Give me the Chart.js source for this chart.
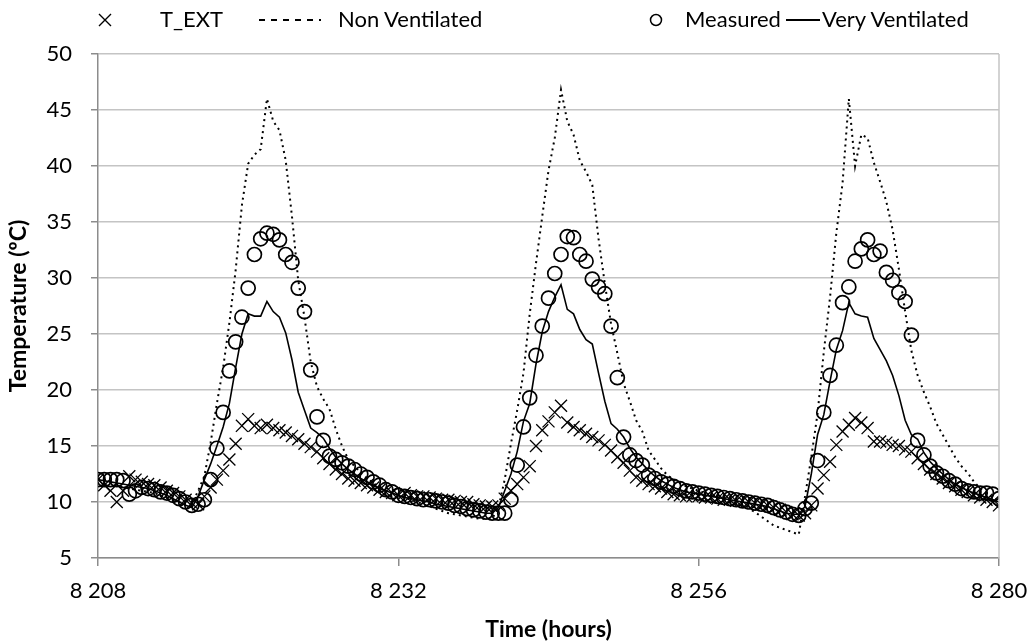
<!DOCTYPE html>
<html>
<head>
<meta charset="utf-8">
<title>Temperature vs time</title>
<script src="https://cdn.jsdelivr.net/npm/chart.js@4.4.0/dist/chart.umd.min.js"></script>
<style>
  html, body { margin: 0; padding: 0; background: #fff; }
  #wrap { position: relative; width: 1028px; height: 643px; }
  #legend { position: absolute; left: 0; top: 0; width: 1028px; height: 40px;
            font-family: Lato, "Open Sans", sans-serif; font-size: 22px; color: #000; }
  #legend .lg { position: absolute; top: 5px; height: 28px; line-height: 28px; white-space: nowrap; }
  #legend svg { position: absolute; top: 0; }
</style>
</head>
<body>
<div id="wrap">
  <canvas id="chart" width="1028" height="643"></canvas>
  <div id="legend">
    <svg style="left:97px" width="16" height="40"><path d="M2 14 L14 26 M14 14 L2 26" stroke="#000" stroke-width="1.4"/></svg>
    <span class="lg" style="left:160px">T_EXT</span>
    <svg style="left:259px" width="62" height="40"><line x1="0" y1="20" x2="62" y2="20" stroke="#000" stroke-width="2" stroke-dasharray="6 6"/></svg>
    <span class="lg" style="left:338px">Non Ventilated</span>
    <svg style="left:648px" width="16" height="40"><circle cx="8" cy="20" r="5.5" fill="none" stroke="#000" stroke-width="1.5"/></svg>
    <span class="lg" style="left:685px">Measured</span>
    <svg style="left:786px" width="34" height="40"><line x1="0" y1="20" x2="34" y2="20" stroke="#000" stroke-width="2"/></svg>
    <span class="lg" style="left:822px">Very Ventilated</span>
  </div>
</div>
<script>
// ---------------- DATA ----------------
// half-hourly samples from hour 8208 to 8280
const startHour = 8208;
const stepHours = 0.5;

const xTicks = [8208, 8232, 8256, 8280];
const xTickLabels = ["8 208", "8 232", "8 256", "8 280"];
const yTicks = [5, 10, 15, 20, 25, 30, 35, 40, 45, 50];

const tExt = [
  12.0, 11.5, 11.0, 10.0, 11.0, 12.3, 12.0, 11.8,
  11.6, 11.5, 11.3, 11.0, 10.8, 10.5, 10.2, 9.9,
  9.8, 10.5, 11.3, 12.0, 12.8, 13.8, 15.2, 16.8,
  17.4, 16.8, 16.6, 16.9, 16.6, 16.4, 16.2, 15.9,
  15.6, 15.2, 14.9, 14.5, 13.9, 13.4, 12.9, 12.5,
  12.1, 11.9, 11.7, 11.5, 11.3, 11.1, 10.9, 10.8,
  10.6, 10.8, 10.6, 10.5, 10.5, 10.4, 10.3, 10.2,
  10.2, 10.1, 10.0, 10.0, 9.8, 9.7, 9.6, 9.6,
  9.7, 10.3, 11.0, 11.6, 12.2, 13.2, 15.0, 16.4,
  17.2, 18.0, 18.6, 17.1, 16.7, 16.4, 16.1, 15.8,
  15.5, 15.1, 14.6, 14.0, 13.5, 12.8, 12.2, 11.9,
  11.6, 11.4, 11.2, 10.9, 10.7, 10.6, 10.5, 10.5,
  10.5, 10.4, 10.4, 10.3, 10.2, 10.2, 10.1, 10.1,
  10.0, 9.9, 9.8, 9.7, 9.5, 9.3, 9.1, 8.9,
  8.8, 9.0, 9.7, 11.2, 12.4, 13.6, 15.1, 16.3,
  16.9, 17.5, 17.1, 16.6, 15.4, 15.4, 15.3, 15.1,
  15.0, 14.7, 14.5, 13.9, 13.4, 12.9, 12.5, 12.1,
  11.7, 11.4, 11.1, 10.9, 10.6, 10.4, 10.2, 10.0,
  9.7
];

const nonVentilated = [
  12.1, 12.0, 11.8, 11.5, 11.3, 11.2, 11.1, 11.0,
  10.9, 10.8, 10.6, 10.4, 10.2, 10.0, 9.8, 9.8,
  11.0, 12.3, 15.3, 18.8, 22.0, 26.0, 30.7, 36.5,
  40.2, 41.0, 41.5, 46.0, 44.0, 43.2, 40.5, 35.5,
  29.8, 26.5, 22.5, 20.3, 19.2, 18.3, 16.5, 15.0,
  13.8, 13.2, 12.6, 12.1, 11.7, 11.3, 11.0, 10.8,
  10.6, 10.4, 10.2, 10.0, 9.8, 9.6, 9.4, 9.2,
  9.0, 8.9, 8.8, 8.7, 8.6, 8.5, 8.5, 8.5,
  9.5, 12.0, 15.2, 18.2, 21.5, 26.8, 31.3, 35.5,
  39.6, 42.5, 46.8, 44.0, 42.8, 40.5, 39.5, 38.3,
  33.5, 29.5, 25.9, 23.3, 20.6, 19.0, 17.3, 16.3,
  14.6, 13.8, 13.0, 12.4, 12.0, 11.7, 11.4, 11.2,
  11.0, 10.8, 10.6, 10.4, 10.2, 10.0, 9.8, 9.6,
  9.4, 9.1, 8.7, 8.3, 7.9, 7.7, 7.5, 7.3,
  7.1, 10.5, 14.0, 17.9, 23.4, 28.3, 34.0, 38.5,
  46.0, 40.0, 42.8, 42.5, 40.3, 38.6, 36.8, 34.3,
  30.8, 27.0, 23.5, 21.3, 19.8, 18.5, 17.0, 16.0,
  15.0, 14.0, 13.2, 12.6, 11.8, 11.2, 10.8, 10.4,
  10.1
];

const measured = [
  12.0, 12.0, 12.0, 12.0, 11.9, 10.7, 11.0, 11.3,
  11.2, 11.1, 10.9, 10.8, 10.6, 10.3, 10.0, 9.7,
  9.8, 10.2, 12.0, 14.8, 18.0, 21.7, 24.3, 26.5,
  29.1, 32.1, 33.5, 34.0, 33.9, 33.4, 32.1, 31.4,
  29.1, 27.0, 21.8, 17.6, 15.5, 14.1, 13.8, 13.5,
  13.2, 12.9, 12.5, 12.2, 11.8, 11.5, 11.1, 10.9,
  10.6, 10.5, 10.4, 10.3, 10.2, 10.2, 10.1, 10.0,
  9.9, 9.7, 9.6, 9.4, 9.3, 9.2, 9.1, 9.0,
  9.0, 9.0, 10.2, 13.3, 16.7, 19.3, 23.1, 25.7,
  28.2, 30.4, 32.1, 33.7, 33.6, 32.1, 31.5, 29.9,
  29.2, 28.6, 25.7, 21.1, 15.8, 14.2, 13.7, 13.3,
  12.4, 12.1, 11.8, 11.6, 11.4, 11.2, 11.0, 10.9,
  10.8, 10.7, 10.6, 10.5, 10.4, 10.3, 10.2, 10.1,
  10.0, 9.9, 9.8, 9.7, 9.5, 9.3, 9.1, 8.9,
  8.8, 9.4, 9.9, 13.7, 18.0, 21.3, 24.0, 27.8,
  29.2, 31.5, 32.6, 33.4, 32.1, 32.4, 30.5, 29.8,
  28.7, 27.9, 24.9, 15.5, 14.2, 13.2, 12.6, 12.3,
  11.9, 11.6, 11.2, 11.0, 10.9, 10.8, 10.8, 10.7,
  10.3
];

const veryVentilated = [
  12.0, 11.9, 11.8, 11.7, 11.6, 11.5, 11.4, 11.3,
  11.2, 11.0, 10.8, 10.6, 10.3, 10.0, 9.7, 9.5,
  10.5, 12.0, 13.4, 15.0, 16.7, 18.8, 22.0, 25.0,
  26.8, 26.6, 26.6, 27.9, 27.0, 26.5, 25.1, 22.7,
  19.8, 18.2, 16.6, 16.2, 15.7, 14.8, 14.0, 13.4,
  12.9, 12.5, 12.1, 11.8, 11.5, 11.2, 11.0, 10.8,
  10.6, 10.4, 10.3, 10.2, 10.1, 10.0, 9.8, 9.7,
  9.6, 9.5, 9.4, 9.3, 9.2, 9.1, 9.0, 9.0,
  9.5, 11.0, 12.5, 14.5, 17.2, 18.8, 22.3, 25.2,
  27.0, 28.3, 29.4, 27.2, 26.8, 25.4, 24.5, 24.1,
  21.5, 19.0, 17.0, 16.5, 15.8, 14.8, 14.0, 13.4,
  12.8, 12.3, 11.9, 11.6, 11.3, 11.1, 10.9, 10.8,
  10.7, 10.6, 10.5, 10.4, 10.3, 10.2, 10.1, 10.0,
  9.9, 9.8, 9.7, 9.6, 9.4, 9.2, 9.0, 8.9,
  8.9, 9.6, 12.5, 16.0, 17.8, 20.8, 23.6, 25.3,
  27.8, 26.8, 26.6, 26.5, 24.6, 23.6, 22.6, 21.3,
  19.5, 17.3, 16.0, 15.6, 14.4, 13.6, 13.0, 12.5,
  12.0, 11.6, 11.3, 11.0, 10.8, 10.6, 10.4, 10.2,
  10.0
];

// ---------------- HELPERS ----------------
const FONT = "Lato, 'Open Sans', sans-serif";
const AXIS_GREY = "#8c8c8c";
const GRID_GREY = "#c4c4c4";

function toPoints(values) {
  return values.map((v, i) => ({ x: startHour + i * stepHours, y: v }));
}

// right edge of the plot frame
const frameRight = {
  id: "frameRight",
  afterDraw(chart) {
    const { ctx, chartArea } = chart;
    ctx.save();
    ctx.strokeStyle = GRID_GREY;
    ctx.lineWidth = 1.5;
    ctx.beginPath();
    ctx.moveTo(chartArea.right, chartArea.top);
    ctx.lineTo(chartArea.right, chartArea.bottom);
    ctx.stroke();
    ctx.restore();
  },
};

// ---------------- CHART ----------------
new Chart(document.getElementById("chart"), {
  type: "line",
  data: {
    datasets: [
      {
        label: "T_EXT",
        data: toPoints(tExt),
        showLine: false,
        pointStyle: "crossRot",
        pointRadius: 8.5,
        pointBorderColor: "#000",
        pointBorderWidth: 1.3,
      },
      {
        label: "Non Ventilated",
        data: toPoints(nonVentilated),
        borderColor: "#000",
        borderWidth: 2,
        borderDash: [2, 4],
        pointRadius: 0,
        tension: 0,
      },
      {
        label: "Measured",
        data: toPoints(measured),
        showLine: false,
        pointStyle: "circle",
        pointRadius: 7,
        pointBorderColor: "#000",
        pointBackgroundColor: "rgba(0,0,0,0)",
        pointBorderWidth: 1.7,
      },
      {
        label: "Very Ventilated",
        data: toPoints(veryVentilated),
        borderColor: "#000",
        borderWidth: 1.6,
        pointRadius: 0,
        tension: 0,
      },
    ],
  },
  options: {
    responsive: false,
    animation: false,
    events: [],
    layout: { padding: { top: 54, right: 29, left: 0, bottom: 0 } },
    plugins: {
      legend: { display: false },
      tooltip: { enabled: false },
    },
    scales: {
      x: {
        type: "linear",
        min: xTicks[0],
        max: xTicks[xTicks.length - 1],
        afterFit: (s) => {
          s.height = 85;
          s.paddingLeft = 0;
          s.paddingRight = 0;
        },
        afterBuildTicks: (s) => { s.ticks = xTicks.map((v) => ({ value: v })); },
        ticks: {
          callback: (v) => xTickLabels[xTicks.indexOf(v)],
          color: "#000",
          font: { family: FONT, size: 22 },
          padding: 12,
          maxRotation: 0,
        },
        grid: {
          drawOnChartArea: false,
          tickLength: 8,
          tickColor: AXIS_GREY,
          lineWidth: 1.5,
        },
        border: { color: AXIS_GREY, width: 1.5 },
        title: {
          display: true,
          text: "Time (hours)",
          color: "#000",
          font: { family: FONT, size: 23, weight: "bold" },
          padding: { top: 0, bottom: 0 },
        },
      },
      y: {
        min: yTicks[0],
        max: yTicks[yTicks.length - 1],
        afterFit: (s) => { s.width = 98; },
        afterBuildTicks: (s) => { s.ticks = yTicks.map((v) => ({ value: v })); },
        ticks: {
          color: "#000",
          font: { family: FONT, size: 22 },
          padding: 19,
        },
        grid: {
          color: GRID_GREY,
          lineWidth: 1.5,
          tickLength: 7,
          tickColor: AXIS_GREY,
        },
        border: { color: AXIS_GREY, width: 1.5 },
        title: {
          display: true,
          text: "Temperature (ºC)",
          color: "#000",
          font: { family: FONT, size: 23, weight: "bold" },
          padding: { top: 5, bottom: 0 },
        },
      },
    },
  },
  plugins: [frameRight],
});
</script>
</body>
</html>
